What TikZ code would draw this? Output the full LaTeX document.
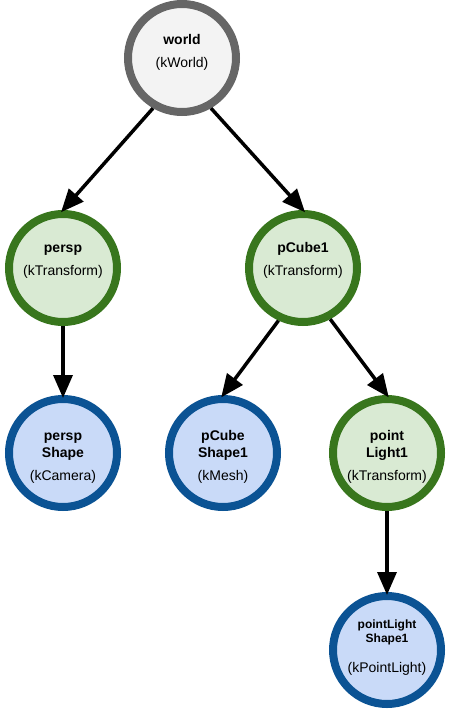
\documentclass[tikz,border=0pt]{standalone}
\usepackage{fontspec}
\setmainfont{Liberation Sans}
\usetikzlibrary{arrows.meta}
\definecolor{worldring}{HTML}{666666}
\definecolor{worldfill}{HTML}{F3F3F3}
\definecolor{xformring}{HTML}{38761D}
\definecolor{xformfill}{HTML}{D9EAD3}
\definecolor{shapering}{HTML}{0B5394}
\definecolor{shapefill}{HTML}{C9DAF8}
\newcommand{\objtext}[3][54pt]{\parbox[c][#1][t]{84pt}{\centering\fontsize{14}{17}\selectfont\strut\textbf{#2}\\[6pt]#3}}
\tikzset{
  dagnode/.style={circle, line width=8pt, minimum size=108pt, inner sep=0pt},
  worldobj/.style={dagnode, draw=worldring, fill=worldfill},
  xformobj/.style={dagnode, draw=xformring, fill=xformfill},
  shapeobj/.style={dagnode, draw=shapering, fill=shapefill},
  link/.style={line width=3.5pt, -{Triangle[length=23pt,width=19pt]}, shorten >=-3pt}
}
\begin{document}
\begin{tikzpicture}[x=1pt,y=-1pt]
      \useasboundingbox (0,0) rectangle (448,711);
      \draw
        (182,58) node[worldobj] (world){\objtext[50pt]{world}{(kWorld)}}
        (63,268) node[xformobj] (persp){\objtext{persp}{(kTransform)}}
        (303,268) node[xformobj] (pCube1){\objtext{pCube1}{(kTransform)}}
        (63,453) node[shapeobj] (perspShape){\objtext[48pt]{persp\\Shape}{(kCamera)}}
        (223,453) node[shapeobj] (pCubeShape1){\objtext[48pt]{pCube\\Shape1}{(kMesh)}}
        (387,453) node[xformobj] (pointLight1){\objtext[48pt]{point\\Light1}{(kTransform)}}
        (387,650) node[shapeobj] (pointLightShape1){\parbox[c][62pt][t]{84pt}{\centering\fontsize{12}{14}\selectfont\strut\textbf{pointLight\\Shape1}\par\vspace{13pt}\fontsize{14}{17}\selectfont(kPointLight)}};
      \begin{scope}[link]
        \draw (world.240) to (persp.north);
        \draw (world.300) to (pCube1.north);
        \draw (persp.south) to (perspShape.north);
        \draw (pCube1.245) to (pCubeShape1.north);
        \draw (pCube1.298) to (pointLight1.north);
        \draw (pointLight1.south) to (pointLightShape1.north);
      \end{scope}
    \end{tikzpicture}
\end{document}
